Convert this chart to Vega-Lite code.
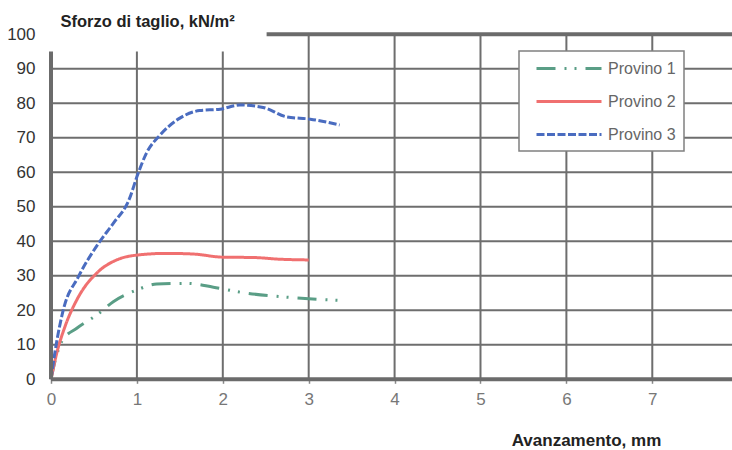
{
  "$schema": "https://vega.github.io/schema/vega-lite/v6.json",
  "width": 681,
  "height": 345,
  "autosize": {"type": "none"},
  "padding": {"left": 51, "top": 34.3, "right": 0, "bottom": 70.7},
  "background": "white",
  "config": {
    "view": {"stroke": null},
    "font": "Liberation Sans",
    "legend": {"strokeWidth": 1.5},
    "axisY": {"labelOverlap": false, "tickCount": 11},
    "axisX": {"labelOverlap": false}
  },
  "datasets": {
    "curves": [
      {"serie": "Provino 1", "x": 0, "y": 0},
      {"serie": "Provino 1", "x": 0.06, "y": 6.5},
      {"serie": "Provino 1", "x": 0.13, "y": 11.2},
      {"serie": "Provino 1", "x": 0.3, "y": 14.8},
      {"serie": "Provino 1", "x": 0.53, "y": 18.6},
      {"serie": "Provino 1", "x": 0.725, "y": 22.5},
      {"serie": "Provino 1", "x": 1.0, "y": 25.9},
      {"serie": "Provino 1", "x": 1.23, "y": 27.6},
      {"serie": "Provino 1", "x": 1.58, "y": 27.8},
      {"serie": "Provino 1", "x": 1.89, "y": 26.7},
      {"serie": "Provino 1", "x": 2.24, "y": 25.1},
      {"serie": "Provino 1", "x": 2.74, "y": 23.8},
      {"serie": "Provino 1", "x": 3.25, "y": 23.0},
      {"serie": "Provino 1", "x": 3.42, "y": 22.8},
      {"serie": "Provino 2", "x": 0, "y": 0},
      {"serie": "Provino 2", "x": 0.066, "y": 7.5},
      {"serie": "Provino 2", "x": 0.163, "y": 15.3},
      {"serie": "Provino 2", "x": 0.3, "y": 23.0},
      {"serie": "Provino 2", "x": 0.55, "y": 31.2},
      {"serie": "Provino 2", "x": 0.765, "y": 34.6},
      {"serie": "Provino 2", "x": 1.0, "y": 36.0},
      {"serie": "Provino 2", "x": 1.35, "y": 36.5},
      {"serie": "Provino 2", "x": 1.66, "y": 36.3},
      {"serie": "Provino 2", "x": 2.0, "y": 35.4},
      {"serie": "Provino 2", "x": 2.36, "y": 35.3},
      {"serie": "Provino 2", "x": 2.67, "y": 34.8},
      {"serie": "Provino 2", "x": 3.0, "y": 34.6},
      {"serie": "Provino 3", "x": 0, "y": 0},
      {"serie": "Provino 3", "x": 0.05, "y": 8.5},
      {"serie": "Provino 3", "x": 0.143, "y": 20.1},
      {"serie": "Provino 3", "x": 0.318, "y": 29.7},
      {"serie": "Provino 3", "x": 0.567, "y": 39.9},
      {"serie": "Provino 3", "x": 0.725, "y": 45.2},
      {"serie": "Provino 3", "x": 0.916, "y": 52.5},
      {"serie": "Provino 3", "x": 1.0, "y": 58.7},
      {"serie": "Provino 3", "x": 1.11, "y": 65.5},
      {"serie": "Provino 3", "x": 1.27, "y": 70.8},
      {"serie": "Provino 3", "x": 1.5, "y": 75.7},
      {"serie": "Provino 3", "x": 1.73, "y": 77.9},
      {"serie": "Provino 3", "x": 1.97, "y": 78.3},
      {"serie": "Provino 3", "x": 2.2, "y": 79.5},
      {"serie": "Provino 3", "x": 2.47, "y": 78.8},
      {"serie": "Provino 3", "x": 2.74, "y": 76.1},
      {"serie": "Provino 3", "x": 3.02, "y": 75.4},
      {"serie": "Provino 3", "x": 3.36, "y": 73.7}
    ],
    "grid": [
      {"x": 0, "x2": 7.928, "y": 10, "y2": 10},
      {"x": 0, "x2": 7.928, "y": 20, "y2": 20},
      {"x": 0, "x2": 7.928, "y": 30, "y2": 30},
      {"x": 0, "x2": 7.928, "y": 40, "y2": 40},
      {"x": 0, "x2": 7.928, "y": 50, "y2": 50},
      {"x": 0, "x2": 7.928, "y": 60, "y2": 60},
      {"x": 0, "x2": 7.928, "y": 70, "y2": 70},
      {"x": 0, "x2": 7.928, "y": 80, "y2": 80},
      {"x": 0, "x2": 7.928, "y": 90, "y2": 90},
      {"x": 1, "x2": 1, "y": 0, "y2": 95},
      {"x": 2, "x2": 2, "y": 0, "y2": 95},
      {"x": 3, "x2": 3, "y": 0, "y2": 100},
      {"x": 4, "x2": 4, "y": 0, "y2": 100},
      {"x": 5, "x2": 5, "y": 0, "y2": 100},
      {"x": 6, "x2": 6, "y": 0, "y2": 100},
      {"x": 7, "x2": 7, "y": 0, "y2": 100}
    ],
    "frame": [
      {"x": 0, "x2": 7.928, "y": 0, "y2": 0},
      {"x": 0, "x2": 0, "y": 0, "y2": 95},
      {"x": 2.51, "x2": 7.928, "y": 100, "y2": 100}
    ]
  },
  "encoding": {
    "x": {
      "field": "x", "type": "quantitative",
      "scale": {"domain": [0, 7.928], "nice": false, "zero": false},
      "axis": {
        "values": [0, 1, 2, 3, 4, 5, 6, 7],
        "format": "d",
        "domain": false, "grid": false,
        "ticks": true, "tickSize": 4, "tickColor": "#888888", "tickWidth": 1.5,
        "labelFontSize": 17, "labelColor": "#777777", "labelPadding": 8,
        "labelFlush": false, "labelOverlap": false,
        "title": "Avanzamento, mm",
        "titleFontSize": 17, "titleFontWeight": "bold", "titleColor": "#222222",
        "titleAlign": "center", "titleBaseline": "alphabetic",
        "titleX": 535, "titleY": 66.5
      }
    },
    "y": {
      "field": "y", "type": "quantitative",
      "scale": {"domain": [0, 100], "nice": false},
      "axis": {
        "values": [0, 10, 20, 30, 40, 50, 60, 70, 80, 90, 100],
        "format": "d",
        "domain": false, "grid": false, "ticks": false,
        "labelFontSize": 17, "labelColor": "#333333", "labelPadding": 16,
        "labelFlush": false, "labelOverlap": false,
        "title": "Sforzo di taglio, kN/m²",
        "titleAngle": 0, "titleAlign": "left", "titleBaseline": "alphabetic",
        "titleFontSize": 16.5, "titleFontWeight": "bold", "titleColor": "#222222",
        "titleX": 9, "titleY": -7.5
      }
    }
  },
  "layer": [
    {
      "data": {"name": "grid"},
      "mark": {"type": "rule", "color": "#6e6e6e", "strokeWidth": 2},
      "encoding": {
        "x2": {"field": "x2"},
        "y2": {"field": "y2"}
      }
    },
    {
      "data": {"name": "curves"},
      "mark": {"type": "line", "interpolate": "monotone", "strokeWidth": 3},
      "encoding": {
        "color": {
          "field": "serie", "type": "nominal",
          "scale": {"domain": ["Provino 1", "Provino 2", "Provino 3"], "range": ["#5a9e86", "#f07070", "#4a6cc0"]},
          "legend": {
            "title": null, "orient": "none", "legendX": 468, "legendY": 16.7,
            "padding": 8, "strokeColor": "#808080", "fillColor": "white",
            "symbolType": "M0,0H8.125", "symbolSize": 256, "symbolStrokeWidth": 3,
            "labelFontSize": 16, "labelColor": "#666666", "labelOffset": 62,
            "rowPadding": 15
          }
        },
        "strokeDash": {
          "field": "serie", "type": "nominal",
          "scale": {"domain": ["Provino 1", "Provino 2", "Provino 3"], "range": [[19, 9, 2, 8, 2, 9], [1, 0], [8, 2.5]]},
          "legend": {
            "title": null, "orient": "none", "legendX": 468, "legendY": 16.7,
            "padding": 8, "strokeColor": "#808080", "fillColor": "white",
            "symbolType": "M0,0H8.125", "symbolSize": 256, "symbolStrokeWidth": 3,
            "labelFontSize": 16, "labelColor": "#666666", "labelOffset": 62,
            "rowPadding": 15
          }
        }
      }
    },
    {
      "data": {"name": "frame"},
      "mark": {"type": "rule", "color": "#6b6b6b", "strokeWidth": 4},
      "encoding": {
        "x2": {"field": "x2"},
        "y2": {"field": "y2"}
      }
    }
  ]
}
